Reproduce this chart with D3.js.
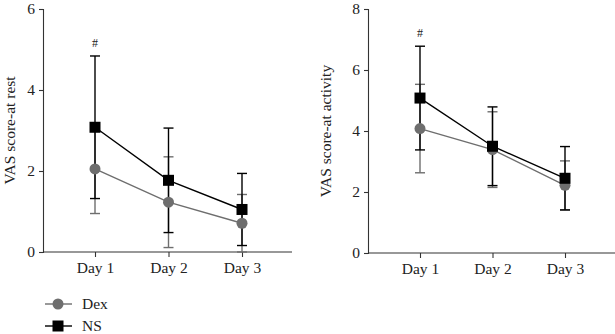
<!DOCTYPE html>
<html><head><meta charset="utf-8">
<script src="https://cdn.jsdelivr.net/npm/d3@7"></script>
<style>body{margin:0;background:#fff}svg{display:block}text{font-family:"Liberation Serif","Times New Roman",serif}</style>
</head><body><svg id="c" width="615" height="334"></svg>
<script>
const days = ["Day 1","Day 2","Day 3"];
const restDex = [2.05, 1.23, 0.71];
const restDexSD = [1.1, 1.12, 0.71];
const restNS = [3.08, 1.77, 1.05];
const restNSSD = [1.76, 1.29, 0.89];
const actDex = [4.08, 3.39, 2.22];
const actDexSD = [1.45, 1.24, 0.80];
const actNS = [5.08, 3.50, 2.45];
const actNSSD = [1.70, 1.29, 1.04];
const restTicks = [0,2,4,6];
const actTicks = [0,2,4,6,8];
const restLabel = "VAS score-at rest";
const actLabel = "VAS score-at activity";
const sigMark = "#";

const svg = d3.select("#c");
const DEX = "#6e6e6e", NS = "#000";
const FS = 15.5;

function panel(cfg){
  const g = svg.append("g");
  const x = d3.scalePoint().domain(days).range([cfg.x0+52, cfg.x1-50]);
  const y = d3.scaleLinear().domain([0, cfg.max]).range([cfg.yb, cfg.yt]);
  const ya = g.append("g").attr("transform",`translate(${cfg.x0},0)`)
    .call(d3.axisLeft(y).tickValues(cfg.ticks).tickSize(4).tickPadding(4).tickFormat(d3.format("d")));
  const xa = g.append("g").attr("transform",`translate(0,${cfg.yb})`)
    .call(d3.axisBottom(x).tickSize(5).tickPadding(5));
  xa.select(".domain").attr("d",`M${cfg.x0},0H${cfg.x1}`);
  [ya,xa].forEach(a=>{a.attr("font-size",FS).attr("font-family","Liberation Serif, serif");
    a.selectAll("path,line").attr("stroke","#333").attr("stroke-width",1.1);
    a.selectAll("text").attr("fill","#222");});
  g.append("text").attr("transform",`translate(${cfg.lx},${(cfg.yb+cfg.yt)/2}) rotate(-90)`)
    .attr("text-anchor","middle").attr("font-size",FS).attr("fill","#222").text(cfg.label);
  const series = [
    {m:cfg.dex, sd:cfg.dexSD, c:DEX, shape:"circle"},
    {m:cfg.ns, sd:cfg.nsSD, c:NS, shape:"square"}
  ];
  series.forEach(s=>{
    days.forEach((d,i)=>{
      const cx = x(d), lo = Math.max(0, s.m[i]-s.sd[i]), hi = s.m[i]+s.sd[i];
      g.append("line").attr("x1",cx).attr("x2",cx).attr("y1",y(lo)).attr("y2",y(hi)).attr("stroke",s.c).attr("stroke-width",1.4);
      [lo,hi].forEach(v=>g.append("line").attr("x1",cx-5).attr("x2",cx+5).attr("y1",y(v)).attr("y2",y(v)).attr("stroke",s.c).attr("stroke-width",1.4));
    });
  });
  series.forEach(s=>{
    g.append("path").datum(s.m).attr("fill","none").attr("stroke",s.c).attr("stroke-width",1.4)
      .attr("d",d3.line().x((v,i)=>x(days[i])).y(v=>y(v)));
  });
  series.forEach(s=>{
    days.forEach((d,i)=>{
      if(s.shape==="circle") g.append("circle").attr("cx",x(d)).attr("cy",y(s.m[i])).attr("r",5.5).attr("fill",s.c);
      else g.append("rect").attr("x",x(d)-5.5).attr("y",y(s.m[i])-5.5).attr("width",11).attr("height",11).attr("fill",s.c);
    });
  });
  g.append("text").attr("x",x(days[0])).attr("y",cfg.hashY).attr("text-anchor","middle").attr("font-size",12).attr("fill","#222").text(sigMark);
}

panel({x0:43,x1:292,yt:9,yb:252,max:6,ticks:restTicks,label:restLabel,lx:15,
  dex:restDex,dexSD:restDexSD,ns:restNS,nsSD:restNSSD,hashY:47});
panel({x0:368,x1:615,yt:9,yb:253,max:8,ticks:actTicks,label:actLabel,lx:331,
  dex:actDex,dexSD:actDexSD,ns:actNS,nsSD:actNSSD,hashY:37});

const leg = svg.append("g");
[{n:"Dex",c:DEX,s:"circle",y:304},{n:"NS",c:NS,s:"square",y:326}].forEach(d=>{
  leg.append("line").attr("x1",45).attr("x2",72).attr("y1",d.y).attr("y2",d.y).attr("stroke",d.c).attr("stroke-width",1.4);
  if(d.s==="circle") leg.append("circle").attr("cx",58).attr("cy",d.y).attr("r",5.5).attr("fill",d.c);
  else leg.append("rect").attr("x",52.5).attr("y",d.y-5.5).attr("width",11).attr("height",11).attr("fill",d.c);
  leg.append("text").attr("x",82).attr("y",d.y+5).attr("font-size",FS).attr("fill","#222").text(d.n);
});
</script></body></html>
